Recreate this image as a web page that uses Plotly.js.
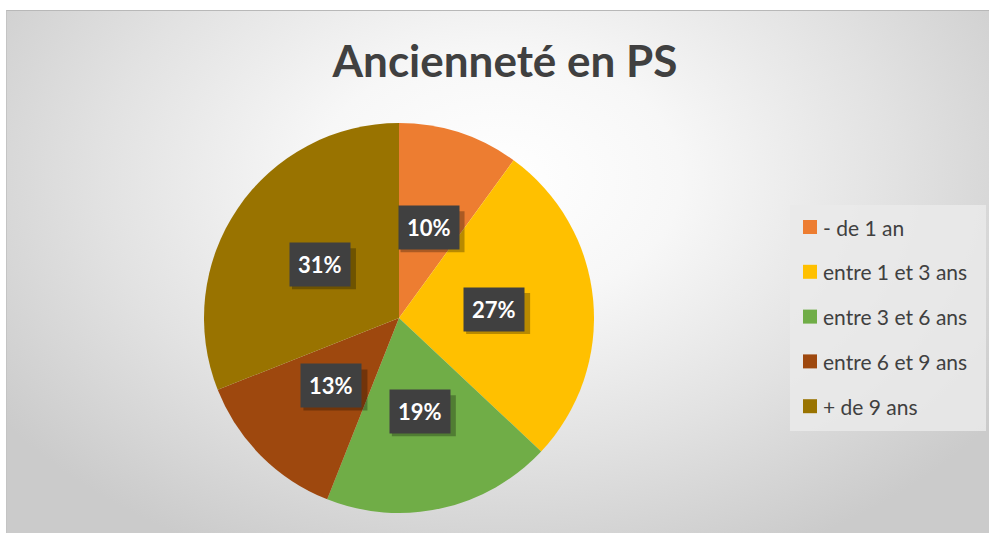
<!DOCTYPE html>
<html>
<head>
<meta charset="utf-8">
<script src="https://cdn.plot.ly/plotly-3.0.1.min.js"></script>
<style>
  html, body { margin: 0; padding: 0; background: #ffffff; }
  #wrap { position: relative; width: 989px; height: 533px; overflow: hidden; }
  #bg {
    position: absolute; left: 6px; top: 10px; width: 983px; height: 523px;
    border-top: 1px solid #b8b8b8; border-left: 1px solid #c4c4c4;
    background: radial-gradient(ellipse 62% 80% at 50% 32%, #ffffff 0%, #f7f7f7 30%, #e2e2e2 65%, #cbcbcb 100%);
  }
  #chart { position: absolute; left: 0; top: 0; width: 989px; height: 533px; }
</style>
</head>
<body>
<div id="wrap">
  <div id="bg"></div>
  <div id="chart"></div>
</div>
<script>
const categories = ["- de 1 an", "entre 1 et 3 ans", "entre 3 et 6 ans", "entre 6 et 9 ans", "+ de 9 ans"];
const values = [10, 27, 19, 13, 31];
const colors = ["#ED7D31", "#FFC000", "#70AD47", "#9E480E", "#997300"];

const W = 989, H = 533;
const cx = 399, cy = 318, R = 195;
const FONT = "Lato, 'Open Sans', sans-serif";

const total = values.reduce((a, b) => a + b, 0);
const annotations = [];
const shapes = [];
let cum = 0;
values.forEach((v, i) => {
  const mid = (cum + v / 2) / total * 2 * Math.PI;
  cum += v;
  const px = cx + 0.49 * R * Math.sin(mid);
  const py = cy - 0.49 * R * Math.cos(mid);
  const pct = Math.round(v / total * 100) + "%";
  // drop shadow behind the label box (offset down-right)
  shapes.push({
    type: "rect", layer: "above",
    xref: "paper", yref: "paper",
    x0: (px - 28) / W, x1: (px + 36) / W,
    y0: 1 - (py + 25) / H, y1: 1 - (py - 16) / H,
    fillcolor: "rgba(0,0,0,0.28)", line: { width: 0 }
  });
  annotations.push({
    x: px / W, y: 1 - py / H, xref: "paper", yref: "paper",
    xanchor: "center", yanchor: "middle",
    text: "<b>" + pct + "</b>", showarrow: false,
    font: { family: FONT, size: 22, color: "#ffffff" },
    bgcolor: "#404040", borderpad: 8
  });
});

// legend panel
const legTop = 205, legStep = 44.8, legFirst = 227;
shapes.push({
  type: "rect", layer: "below", xref: "paper", yref: "paper",
  x0: 790 / W, x1: 986 / W, y0: 1 - 431 / H, y1: 1 - legTop / H,
  fillcolor: "rgba(234,234,234,0.85)", line: { width: 0 }
});
categories.forEach((c, i) => {
  const yy = legFirst + i * legStep;
  shapes.push({
    type: "rect", layer: "above", xref: "paper", yref: "paper",
    x0: 803 / W, x1: 817 / W, y0: 1 - (yy + 7) / H, y1: 1 - (yy - 7) / H,
    fillcolor: colors[i], line: { width: 0 }
  });
  annotations.push({
    x: 821 / W, y: 1 - yy / H, xref: "paper", yref: "paper",
    xanchor: "left", yanchor: "middle", showarrow: false,
    text: c, font: { family: FONT, size: 21, color: "#404040" }
  });
});

const data = [{
  type: "pie",
  labels: categories,
  values: values,
  sort: false,
  direction: "clockwise",
  rotation: 0,
  textinfo: "none",
  hoverinfo: "label+percent",
  marker: { colors: colors, line: { width: 0 } },
  domain: { x: [(cx - R) / W, (cx + R) / W], y: [1 - (cy + R) / H, 1 - (cy - R) / H] }
}];

const layout = {
  width: W, height: H,
  margin: { l: 0, r: 0, t: 0, b: 0 },
  paper_bgcolor: "rgba(0,0,0,0)",
  plot_bgcolor: "rgba(0,0,0,0)",
  title: {
    text: "<b>Ancienneté en PS</b>",
    x: 505 / W, xanchor: "center",
    y: 1 - 62 / H, yanchor: "middle",
    font: { family: FONT, size: 44, color: "#404040" }
  },
  showlegend: false,
  shapes: shapes,
  annotations: annotations
};

Plotly.newPlot("chart", data, layout, { displayModeBar: false, staticPlot: true });
</script>
</body>
</html>
